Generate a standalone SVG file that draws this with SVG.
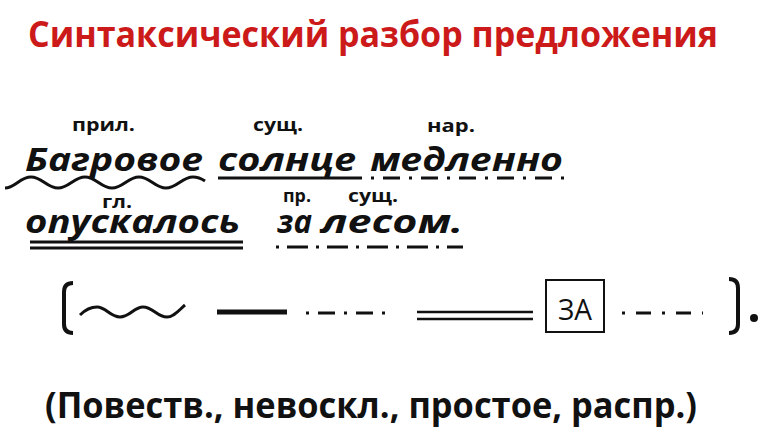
<svg xmlns="http://www.w3.org/2000/svg" width="770" height="443" viewBox="0 0 770 443">
<style>
.t{font-family:"Open Sans","Noto Sans","DejaVu Sans",sans-serif;font-weight:bold;fill:#111}
.w{font-family:"Open Sans","Noto Sans","DejaVu Sans",sans-serif;font-weight:bold;font-style:italic;font-size:32px;fill:#111}
.l{font-size:18px}
.ln{fill:none;stroke:#111;stroke-linecap:butt}
</style>
<rect width="770" height="443" fill="#fff"/>
<g id="title">
<text class="t" x="28" y="47" font-size="36" style="fill:#cc1a1a" textLength="690" lengthAdjust="spacingAndGlyphs">Синтаксический разбор предложения</text>
</g>
<g id="labels">
<text class="t l" x="72" y="131" textLength="63" lengthAdjust="spacingAndGlyphs">прил.</text>
<text class="t l" x="253" y="131" textLength="50" lengthAdjust="spacingAndGlyphs">сущ.</text>
<text class="t l" x="427" y="132" textLength="48" lengthAdjust="spacingAndGlyphs">нар.</text>
<text class="t l" x="102" y="208" textLength="30" lengthAdjust="spacingAndGlyphs">гл.</text>
<text class="t l" x="283" y="202" textLength="28" lengthAdjust="spacingAndGlyphs">пр.</text>
<text class="t l" x="348" y="202" textLength="50" lengthAdjust="spacingAndGlyphs">сущ.</text>
</g>
<g id="sentence">
<text class="w" x="25" y="171" textLength="178" lengthAdjust="spacingAndGlyphs">Багровое</text>
<text class="w" x="218" y="171" textLength="138" lengthAdjust="spacingAndGlyphs">солнце</text>
<text class="w" x="370" y="171" textLength="193" lengthAdjust="spacingAndGlyphs">медленно</text>
<text class="w" x="25" y="233" textLength="215" lengthAdjust="spacingAndGlyphs">опускалось</text>
<text class="w" x="277" y="233" textLength="35" lengthAdjust="spacingAndGlyphs">за</text>
<text class="w" x="321" y="233" textLength="142" lengthAdjust="spacingAndGlyphs">лесом.</text>
</g>
<g id="underlines">
<path class="ln" stroke-width="3" d="M5,188 C15,188 20,177 31,177 C42,177 47,188 58,188 C69,188 74,177 85,177 C96,177 101,188 112,188 C123,188 128,177 139,177 C150,177 155,188 166,188 C177,188 182,177 193,177 C199,177 202,179 205,181"/>
<line class="ln" x1="218" y1="178" x2="362" y2="178" stroke-width="3"/>
<line class="ln" x1="371" y1="178" x2="566" y2="178" stroke-width="3" stroke-dasharray="3 9 17 9"/>
<line class="ln" x1="30" y1="242" x2="243" y2="242" stroke-width="3"/>
<line class="ln" x1="30" y1="248" x2="243" y2="248" stroke-width="3"/>
<line class="ln" x1="276" y1="247" x2="463" y2="247" stroke-width="3" stroke-dasharray="3 8 21 8"/>
</g>
<g id="scheme">
<path class="ln" stroke-width="4" d="M73,283 Q64,283 64,292 L64,324 Q64,333 73,333"/>
<path class="ln" stroke-width="3" d="M80,315 C86,309 91,307 97,307 C106,307 110,317 120,317 C130,317 134,307 143,307 C153,307 157,317 167,317 C174,317 179,310 185,305"/>
<line class="ln" x1="217" y1="312" x2="287" y2="312" stroke-width="5"/>
<line class="ln" x1="306" y1="313" x2="388" y2="313" stroke-width="3" stroke-dasharray="3 9 17 9"/>
<line class="ln" x1="417" y1="312" x2="533" y2="312" stroke-width="2.5"/>
<line class="ln" x1="417" y1="319" x2="533" y2="319" stroke-width="2.5"/>
<g id="box">
<rect x="546" y="280" width="58" height="52" fill="none" stroke="#111" stroke-width="2"/>
<text x="558" y="320" font-family="'Open Sans','Noto Sans',sans-serif" font-size="29" fill="#111" textLength="34" lengthAdjust="spacingAndGlyphs">ЗА</text>
</g>
<line class="ln" x1="622" y1="313" x2="703" y2="313" stroke-width="3" stroke-dasharray="3 11 15 11"/>
<path class="ln" stroke-width="4" d="M729,279 Q738,279 738,288 L738,324 Q738,333 729,333"/>
<circle cx="754" cy="318" r="4" fill="#111"/>
</g>
<g id="characteristic">
<text class="t" x="45" y="418" font-size="35" textLength="652" lengthAdjust="spacingAndGlyphs">(Повеств., невоскл., простое, распр.)</text>
</g>
</svg>
